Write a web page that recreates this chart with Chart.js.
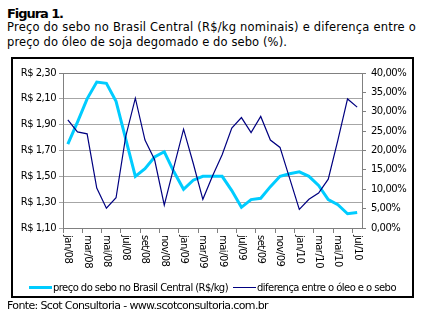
<!DOCTYPE html>
<html>
<head>
<meta charset="utf-8">
<script src="https://cdn.jsdelivr.net/npm/chart.js@4/dist/chart.umd.min.js"></script>
<style>
  body { margin:0; width:431px; height:321px; background:#fff; position:relative; overflow:hidden;
         font-family:"DejaVu Sans", sans-serif; color:#000; }
  .t { position:absolute; white-space:nowrap; line-height:1; }
  #box { position:absolute; left:11px; top:57px; width:399px; height:237px; border:2px solid #000; }
  #chart { position:absolute; left:0; top:0; }
  .ln { position:absolute; }
</style>
</head>
<body>
<div class="t" id="fig" style="left:7px;top:7px;font-size:13px;font-weight:bold">Figura 1.</div>
<div class="t" id="l1" style="left:7px;top:22px;font-size:11.5px">Preço do sebo no Brasil Central (R$/kg nominais) e diferença entre o</div>
<div class="t" id="l2" style="left:7px;top:37px;font-size:11.5px">preço do óleo de soja degomado e do sebo (%).</div>
<div id="box"></div>
<canvas id="chart" width="431" height="321"></canvas>
<div class="ln" style="left:29px;top:286px;width:23px;height:3px;background:#00ccff"></div>
<div class="t" id="lg1" style="left:53px;top:283px;font-size:10px">preço do sebo no Brasil Central (R$/kg)</div>
<div class="ln" style="left:233px;top:287px;width:23px;height:1px;background:#000080"></div>
<div class="t" id="lg2" style="left:257px;top:283px;font-size:10px">diferença entre o óleo e o sebo</div>
<div class="t" id="src" style="left:7px;top:300px;font-size:11px">Fonte: Scot Consultoria - www.scotconsultoria.com.br</div>
<script>
// meses jan/08 .. jul/10
const months = ['jan/08','fev/08','mar/08','abr/08','mai/08','jun/08','jul/08','ago/08','set/08','out/08','nov/08','dez/08',
  'jan/09','fev/09','mar/09','abr/09','mai/09','jun/09','jul/09','ago/09','set/09','out/09','nov/09','dez/09',
  'jan/10','fev/10','mar/10','abr/10','mai/10','jun/10','jul/10'];

// preço do sebo, R$/kg (eixo esquerdo)
const sebo = [1.75, 1.92, 2.10, 2.23, 2.22, 2.08, 1.79, 1.50, 1.56, 1.65, 1.69, 1.535, 1.40, 1.47, 1.50, 1.50,
  1.50, 1.39, 1.26, 1.32, 1.33, 1.42, 1.50, 1.52, 1.535, 1.50, 1.43, 1.32, 1.28, 1.21, 1.22];

// diferença óleo x sebo, % (eixo direito)
const diferenca = [27.9, 24.8, 24.3, 10.3, 5.1, 7.8, 23.6, 33.5, 22.7, 17.6, 5.9, 15.8, 25.5, 16.7, 7.4, 13.4,
  18.9, 25.8, 28.5, 24.6, 28.8, 22.7, 20.8, 12.8, 4.8, 7.4, 9.0, 12.6, 22.7, 33.3, 31.2];

const seboTicks = [1.10, 2.30, 0.20];   // min, max, passo
const difTicks = [0, 40, 5];

// ajusta o espaçamento para chegar na largura do original
function fit(id, w) {
  const el = document.getElementById(id);
  const n = el.textContent.length;
  const nat = el.getBoundingClientRect().width;
  el.style.letterSpacing = ((w - nat) / n) + 'px';
}
fit('fig', 56); fit('l1', 409); fit('l2', 280);
fit('lg1', 175); fit('lg2', 139); fit('src', 261);

const grey = '#a6a6a6';
const dark = '#808080';

const spacing = {
  id: 'spacing',
  beforeDraw(chart) { chart.ctx.letterSpacing = '-0.5px'; }
};

const xLabels = {
  id: 'xLabels',
  afterDraw(chart) {
    const ctx = chart.ctx, xs = chart.scales.x;
    ctx.save();
    ctx.font = '10px "DejaVu Sans"';
    ctx.fillStyle = '#000';
    ctx.textAlign = 'left';
    ctx.textBaseline = 'middle';
    months.forEach((m, i) => {
      if (i % 2) return;
      ctx.save();
      ctx.translate(xs.getPixelForValue(i), chart.chartArea.bottom + 7);
      ctx.rotate(Math.PI / 2);
      ctx.fillText(m, 0, 0);
      ctx.restore();
    });
    ctx.restore();
  }
};

new Chart(document.getElementById('chart'), {
  type: 'line',
  data: {
    labels: months,
    datasets: [
      { label: 'preço do sebo no Brasil Central (R$/kg)', data: sebo, yAxisID: 'y',
        borderColor: '#00ccff', borderWidth: 3, pointRadius: 0, tension: 0, order: 1 },
      { label: 'diferença entre o óleo e o sebo', data: diferenca, yAxisID: 'y2',
        borderColor: '#000080', borderWidth: 1.2, pointRadius: 0, tension: 0, order: 0 }
    ]
  },
  options: {
    responsive: false,
    animation: false,
    layout: { padding: { top: 73, left: 0, right: 0, bottom: 0 } },
    plugins: { legend: { display: false }, tooltip: { enabled: false } },
    scales: {
      x: {
        offset: true,
        afterFit: s => { s.height = 93; },
        ticks: { display: false },
        grid: { offset: true, drawOnChartArea: false, tickLength: 5,
                color: c => c.index % 2 === 0 ? dark : 'rgba(0,0,0,0)' },
        border: { color: dark }
      },
      y: {
        position: 'left',
        min: seboTicks[0], max: seboTicks[1],
        afterFit: s => { s.width = 63; },
        ticks: { stepSize: seboTicks[2], padding: 3, color: '#000',
                 font: { family: 'DejaVu Sans', size: 10 },
                 callback: v => 'R$ ' + v.toFixed(2).replace('.', ',') },
        grid: { tickLength: 4, color: c => (c.tick && Math.abs(c.tick.value - 2.3) < 1e-6) ? dark : grey },
        border: { color: dark }
      },
      y2: {
        position: 'right',
        min: difTicks[0], max: difTicks[1],
        afterFit: s => { s.width = 69; },
        ticks: { stepSize: difTicks[2], padding: 5, color: '#000',
                 font: { family: 'DejaVu Sans', size: 10 },
                 callback: v => v.toFixed(2).replace('.', ',') + '%' },
        grid: { drawOnChartArea: false, tickLength: 4, color: dark },
        border: { color: dark }
      }
    }
  },
  plugins: [spacing, xLabels]
});
</script>
</body>
</html>
